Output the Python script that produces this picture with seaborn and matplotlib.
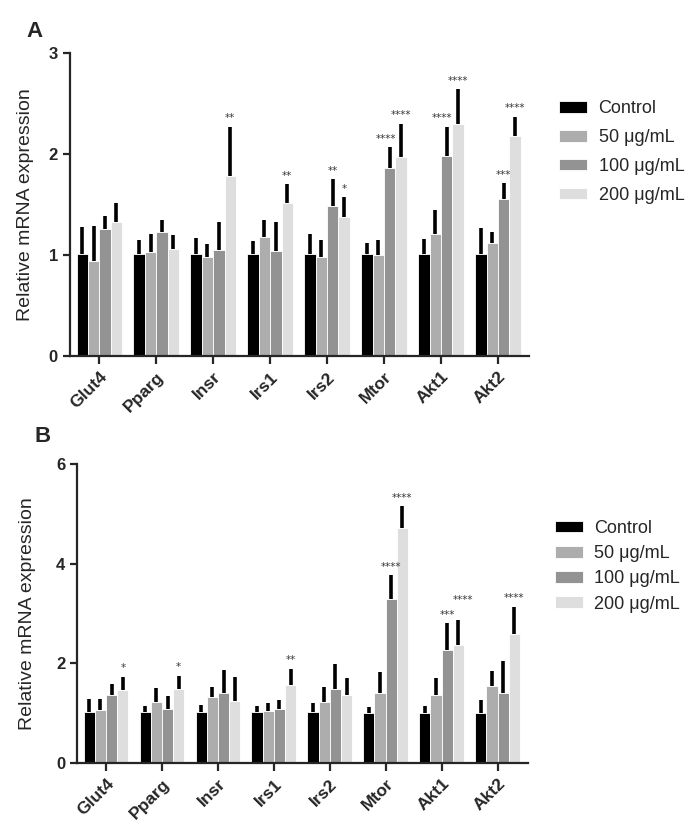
import numpy as np
import pandas as pd
import seaborn as sns
import matplotlib.pyplot as plt

genes = ['Glut4', 'Pparg', 'Insr', 'Irs1', 'Irs2', 'Mtor', 'Akt1', 'Akt2']
groups = ['Control', '50 μg/mL', '100 μg/mL', '200 μg/mL']
colors = ['#000000', '#adadad', '#939393', '#dedede']

# panel A: means and upper error
a_ctrl = [1.01, 1.01, 1.01, 1.01, 1.01, 1.01, 1.01, 1.01]
a_50 = [0.94, 1.03, 0.98, 1.18, 0.98, 1.00, 1.21, 1.12]
a_100 = [1.26, 1.23, 1.05, 1.04, 1.49, 1.86, 1.98, 1.55]
a_200 = [1.33, 1.06, 1.78, 1.52, 1.38, 1.97, 2.30, 2.18]
a_ctrl_err = [0.27, 0.14, 0.16, 0.13, 0.20, 0.11, 0.15, 0.26]
a_50_err = [0.35, 0.18, 0.13, 0.17, 0.17, 0.15, 0.24, 0.11]
a_100_err = [0.13, 0.12, 0.28, 0.29, 0.26, 0.21, 0.29, 0.16]
a_200_err = [0.19, 0.14, 0.49, 0.18, 0.19, 0.33, 0.34, 0.19]
a_sig_100 = ['', '', '', '', '**', '****', '****', '***']
a_sig_200 = ['', '', '**', '**', '*', '****', '****', '****']

# panel B
b_ctrl = [1.02, 1.02, 1.02, 1.02, 1.02, 1.01, 1.01, 1.01]
b_50 = [1.06, 1.23, 1.32, 1.05, 1.23, 1.40, 1.36, 1.55]
b_100 = [1.36, 1.08, 1.40, 1.09, 1.48, 3.30, 2.26, 1.41]
b_200 = [1.46, 1.48, 1.24, 1.57, 1.36, 4.72, 2.36, 2.59]
b_ctrl_err = [0.26, 0.13, 0.15, 0.12, 0.19, 0.11, 0.14, 0.25]
b_50_err = [0.23, 0.28, 0.20, 0.16, 0.29, 0.42, 0.35, 0.30]
b_100_err = [0.23, 0.26, 0.47, 0.17, 0.50, 0.47, 0.54, 0.64]
b_200_err = [0.27, 0.27, 0.49, 0.32, 0.35, 0.44, 0.50, 0.55]
b_sig_100 = ['', '', '', '', '', '****', '***', '']
b_sig_200 = ['*', '*', '', '**', '', '****', '****', '****']

sns.set_style('ticks')
plt.rcParams['font.family'] = ['Liberation Sans', 'DejaVu Sans']
plt.rcParams['axes.linewidth'] = 1.6


def draw_panel(ax, means, errs, sigs, ymax, yticks, label_x, lift=None):
    lift = lift or {}
    df = pd.DataFrame({
        'gene': genes * 4,
        'group': np.repeat(groups, len(genes)),
        'value': np.concatenate(means),
    })
    sns.barplot(data=df, x='gene', y='value', hue='group', palette=colors,
                errorbar=None, width=0.8, edgecolor='white', linewidth=0.6, ax=ax)
    handles, labels = ax.get_legend_handles_labels()
    ax.legend_.remove()
    bars = list(ax.containers)
    for k, cont in enumerate(bars):
        xs = [b.get_x() + b.get_width() / 2 for b in cont]
        hs = [b.get_height() for b in cont]
        ax.errorbar(xs, hs, yerr=[np.zeros(len(xs)), errs[k]], fmt='none',
                    ecolor='black', elinewidth=2.6, capsize=0, zorder=1)
        if sigs[k] is not None:
            for j, (x, h, e, s) in enumerate(zip(xs, hs, errs[k], sigs[k])):
                if s:
                    dx, dy = lift.get((k, j), (0, 0))
                    ax.annotate(s, (x, h + e), xytext=(dx, 6 + dy), textcoords='offset points',
                                ha='center', va='center', fontsize=7.5, color='#3a3a3a',
                                family='DejaVu Sans')
    ax.set_ylim(0, ymax)
    ax.set_yticks(yticks)
    ax.set_xlim(-0.52, 7.55)
    ax.set_xlabel('')
    ax.set_ylabel('Relative mRNA expression', fontsize=14)
    ax.yaxis.set_label_coords(label_x, 0.5)
    ax.tick_params(axis='y', labelsize=12, width=1.6, length=5)
    ax.tick_params(axis='x', labelsize=12.5, width=1.6, length=6)
    for t in ax.get_yticklabels():
        t.set_fontweight('bold')
    plt.setp(ax.get_xticklabels(), rotation=45, ha='right', rotation_mode='anchor',
             fontweight='bold')
    sns.despine(ax=ax)
    return handles, labels


fig = plt.figure(figsize=(6.9, 8.33), dpi=100)
axA = fig.add_axes([0.101, 0.5726, 0.666, 0.3637])
axB = fig.add_axes([0.1116, 0.084, 0.654, 0.359])

h, l = draw_panel(axA, [a_ctrl, a_50, a_100, a_200],
                  [a_ctrl_err, a_50_err, a_100_err, a_200_err],
                  [None, None, a_sig_100, a_sig_200], 3, [0, 1, 2, 3], -0.077,
                  lift={(2, 5): (-3, 0), (2, 6): (-3, 0)})
axA.legend(h, l, loc='upper left', bbox_to_anchor=(0.81, 0.8796),
           bbox_transform=fig.transFigure, frameon=False, fontsize=13,
           handlelength=1.55, handleheight=0.6, handletextpad=0.65,
           labelspacing=0.66, borderpad=0, borderaxespad=0)

h, l = draw_panel(axB, [b_ctrl, b_50, b_100, b_200],
                  [b_ctrl_err, b_50_err, b_100_err, b_200_err],
                  [None, None, b_sig_100, b_sig_200], 6, [0, 2, 4, 6], -0.091,
                  lift={(3, 6): (3, 8.5)})
axB.legend(h, l, loc='upper left', bbox_to_anchor=(0.804, 0.3756),
           bbox_transform=fig.transFigure, frameon=False, fontsize=13,
           handlelength=1.55, handleheight=0.6, handletextpad=0.65,
           labelspacing=0.45, borderpad=0, borderaxespad=0)

fig.text(0.038, 0.975, 'A', fontsize=16, fontweight='bold', va='top')
fig.text(0.05, 0.488, 'B', fontsize=16, fontweight='bold', va='top')

fig.savefig('out.png', dpi=100)
